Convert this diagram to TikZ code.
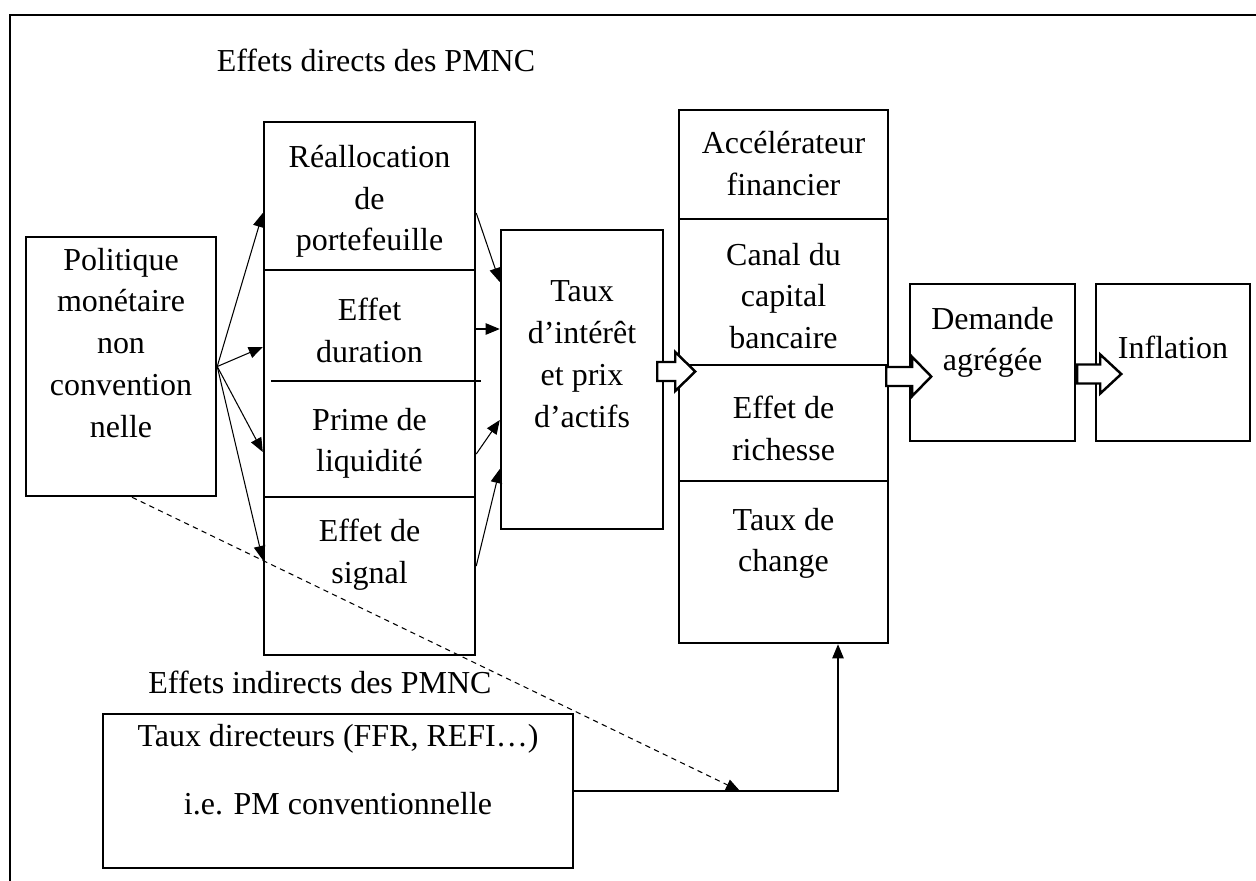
\documentclass[tikz,border=0pt]{standalone}
\usepackage{fontspec}
\setmainfont{Liberation Serif}
\usetikzlibrary{arrows.meta,calc,fit}

\tikzset{
  box/.style={draw, line width=1.4pt, inner sep=0pt},
  txt/.style={anchor=north, inner sep=0pt, align=center,
    font=\fontsize{18.2}{23.8}\selectfont, execute at begin node=\strut},
  thin/.style={line width=0.6pt},
  arr/.style={line width=0.6pt, -{Triangle[length=8pt,width=6.5pt]}},
  fat/.style={line width=1.4pt, fill=white},
}
% hollow block arrow: start of shaft, shaft length, head length
\newcommand{\fatarrow}[3]{\draw[fat] (#1) ++(0,-9.5) -- ++(#2,0) -- ++(0,-10)
  -- ++(#3,19.5) -- ++(-#3,19.5) -- ++(0,-10) -- ++(-#2,0) -- cycle;}

\begin{document}
\begin{tikzpicture}[x=0.02cm, y=-0.02cm]
\useasboundingbox (0,0) rectangle (1256,880);
\draw[line width=1.4pt] (10,900) -- (10,15) -- (1280,15);

% boxes
\node[box, fit={(26,237) (216,496)}] (pol) {};
\node[box, fit={(264,122) (475,655)}] (mid) {};
\node[box, fit={(501,230) (663,529)}] (taux) {};
\node[box, fit={(679,110) (888,643)}] (chan) {};
\node[box, fit={(910,284) (1075,441)}] (dem) {};
\node[box, fit={(1096,284) (1250,441)}] (infl) {};
\node[box, fit={(103,714) (573,868)}] (ind) {};

\draw[thin] (264,270) -- (475,270);
\draw[thin] (271,381) -- (481,381);
\draw[thin] (264,497) -- (475,497);
\draw[thin] (679,219) -- (888,219);
\draw[thin] (679,365) -- (888,365);
\draw[thin] (679,481) -- (888,481);

% texts
\node[txt] (tdir) at (376,41.6) {Effets directs des PMNC};
\node[txt] (polt) at (121,247.6) {Politique\\monétaire\\non\\convention\\nelle};
\node[txt] (c1) at (369.5,144.6) {Réallocation\\de\\portefeuille};
\node[txt] (c2) at (369.5,297.6) {Effet\\duration};
\node[txt] (c3) at (369.5,407.6) {Prime de\\liquidité};
\node[txt] (c4) at (369.5,518.6) {Effet de\\signal};
\node[txt] (tauxt) at (582,280.6) {Taux\\d’intérêt\\et prix\\d’actifs};
\node[txt] (r1) at (783.5,130.6) {Accélérateur\\financier};
\node[txt] (r2) at (783.5,242.6) {Canal du\\capital\\bancaire};
\node[txt] (r3) at (783.5,395.6) {Effet de\\richesse};
\node[txt] (r4) at (783.5,507.6) {Taux de\\change};
\node[txt] (demt) at (992.5,306.6) {Demande\\agrégée};
\node[txt] (inflt) at (1173,328.6) {Inflation};
\node[txt] (tind) at (320,664) {Effets indirects des PMNC};
\node[txt] (indt) at (338,723.6) {Taux directeurs (FFR, REFI…)\\[0.54cm]i.e. PM conventionnelle};

% arrows
\draw[arr] (pol.east) -- (mid.west |- 0,213);
\draw[arr] (pol.east) -- (mid.west |- 0,347);
\draw[arr] (pol.east) -- (mid.west |- 0,452);
\draw[arr] (pol.east) -- (mid.west |- 0,560);
\draw[arr] (mid.east |- 0,213) -- (taux.west |- 0,282);
\draw[arr] (mid.east |- 0,329) -- (taux.west |- 0,329);
\draw[arr] (mid.east |- 0,454) -- (taux.west |- 0,420);
\draw[arr] (mid.east |- 0,566) -- (taux.west |- 0,469);
\draw[arr] (ind.east) -| (chan.south -| 838,0);
\draw[arr, dash pattern=on 3pt off 2.5pt] (pol.south -| 132,0) -- (ind.east -| 740,0);

\fatarrow{$(taux.east)+(-7,-8)$}{18}{20}
\fatarrow{$(chan.east)+(-3,0)$}{26}{19}
\fatarrow{$(dem.east)+(1,11.5)$}{23}{21}
\end{tikzpicture}
\end{document}
